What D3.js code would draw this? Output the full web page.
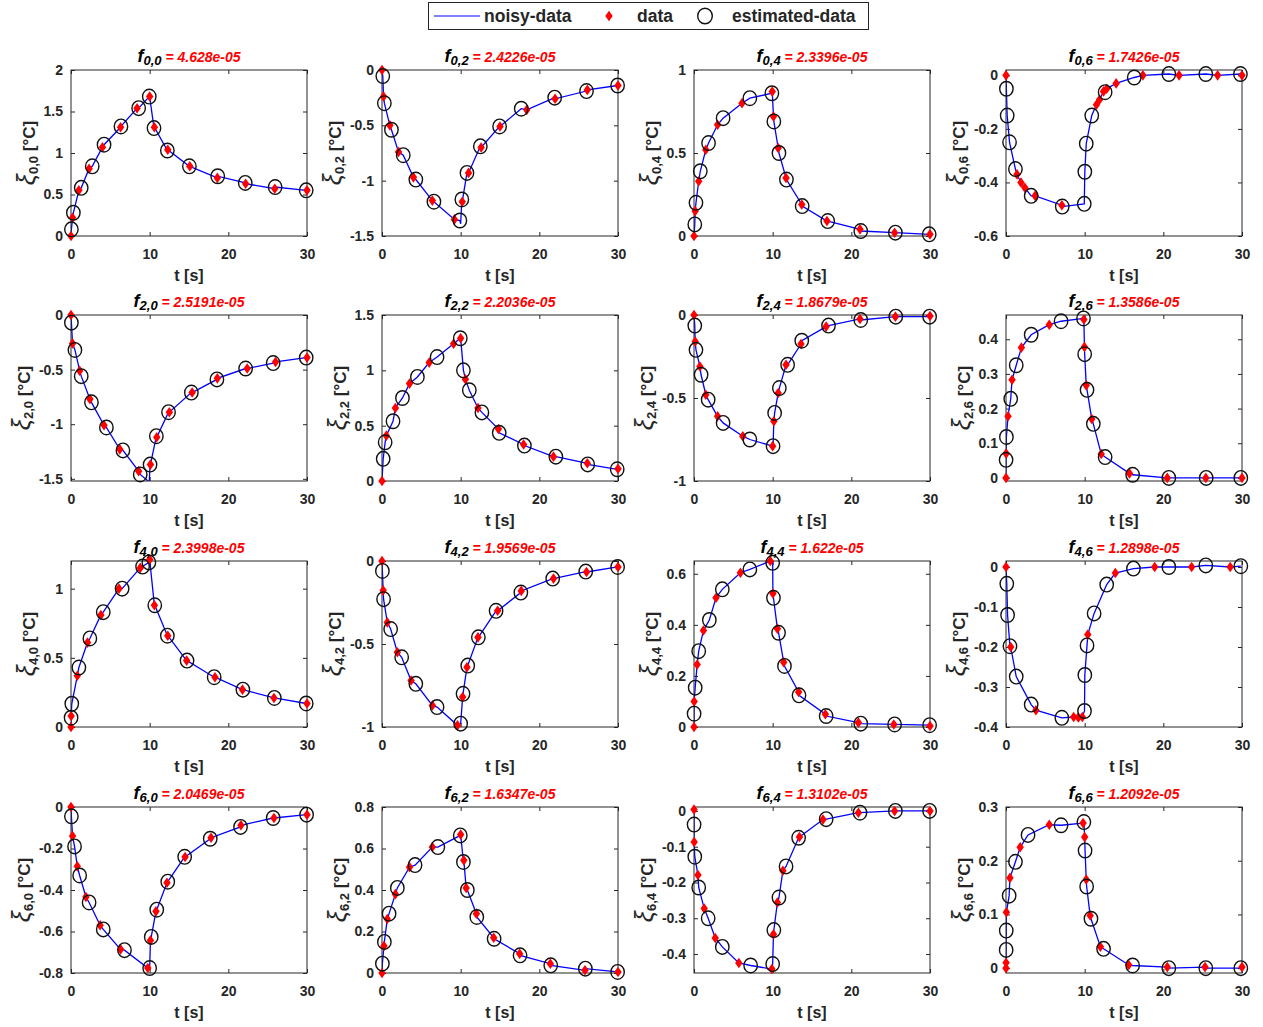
<!DOCTYPE html>
<html><head><meta charset="utf-8">
<script src="https://cdn.jsdelivr.net/npm/d3@7"></script>
<style>body{margin:0;background:#fff} svg{display:block}</style>
</head><body><svg id="c" width="1263" height="1027"></svg>
<script>
// ---------- data ----------
const rowIdx = [0, 2, 4, 6];
const colIdx = [0, 2, 4, 6];
const fValues = ["4.628e-05","2.4226e-05","2.3396e-05","1.7426e-05",
                 "2.5191e-05","2.2036e-05","1.8679e-05","1.3586e-05",
                 "2.3998e-05","1.9569e-05","1.622e-05","1.2898e-05",
                 "2.0469e-05","1.6347e-05","1.3102e-05","1.2092e-05"];
const xTicks = [0, 10, 20, 30];
const xDomain = [0, 30];
const yDomains = [[0,2],[-1.5,0],[0,1],[-0.6,0.02],
                  [-1.52,0],[0,1.5],[-1,0],[-0.009,0.47],
                  [0,1.2],[-1,0],[0,0.65],[-0.4,0.015],
                  [-0.8,0],[0,0.8],[-0.453,0.011],[-0.009,0.3]];
const yTicks = [[0,0.5,1,1.5,2],[-1.5,-1,-0.5,0],[0,0.5,1],[-0.6,-0.4,-0.2,0],
                [-1.5,-1,-0.5,0],[0,0.5,1,1.5],[-1,-0.5,0],[0,0.1,0.2,0.3,0.4],
                [0,0.5,1],[-1,-0.5,0],[0,0.2,0.4,0.6],[-0.4,-0.3,-0.2,-0.1,0],
                [-0.8,-0.6,-0.4,-0.2,0],[0,0.2,0.4,0.6,0.8],[-0.4,-0.3,-0.2,-0.1,0],[0,0.1,0.2,0.3]];

// measured data (red diamonds) and estimated data (circles): [t, value]
const data00 = [[0,0],[0.2,0.22],[1.0,0.55],[2.3,0.81],[4.0,1.07],[6.3,1.31],[8.4,1.54],[10.0,1.68],[10.6,1.31],[12.3,1.04],[15.1,0.84],[18.6,0.70],[22.2,0.63],[25.9,0.57],[30,0.55]];
const est00  = [[0.05,0.08],[0.3,0.28],[1.3,0.58],[2.7,0.84],[4.2,1.10],[6.35,1.32],[8.6,1.54],[9.95,1.68],[10.55,1.30],[12.25,1.03],[15.05,0.84],[18.65,0.72],[22.15,0.64],[25.95,0.59],[29.9,0.55]];
const data02 = [[0,0],[0.2,-0.24],[1.0,-0.50],[2.1,-0.74],[4.0,-0.97],[6.4,-1.18],[9.2,-1.35],[10.2,-1.19],[11.0,-0.93],[12.6,-0.70],[15.0,-0.51],[18.4,-0.36],[22.0,-0.26],[26.1,-0.18],[30,-0.14]];
const est02  = [[0.1,-0.055],[0.3,-0.30],[1.2,-0.54],[2.7,-0.77],[4.3,-0.99],[6.6,-1.19],[9.9,-1.36],[10.15,-1.17],[10.8,-0.93],[12.5,-0.69],[14.95,-0.51],[17.7,-0.35],[21.95,-0.25],[26.0,-0.19],[29.95,-0.14]];
const data04 = [[0,0],[0.15,0.15],[0.6,0.33],[1.5,0.52],[3.0,0.67],[6.1,0.80],[9.95,0.87],[10.1,0.72],[10.7,0.53],[11.7,0.35],[13.7,0.19],[16.9,0.09],[21.1,0.04],[25.5,0.02],[30,0.01]];
const est04  = [[0.1,0.07],[0.25,0.20],[0.8,0.39],[1.85,0.56],[3.7,0.71],[7.1,0.83],[9.9,0.86],[10.15,0.69],[10.8,0.50],[11.75,0.34],[13.75,0.18],[17.0,0.09],[21.2,0.03],[25.6,0.02],[29.9,0.01]];
const data06 = [[0,0],[1.4,-0.37],[1.9,-0.40],[2.4,-0.42],[3.7,-0.45],[7.1,-0.485],[11.5,-0.11],[11.9,-0.09],[12.4,-0.06],[12.8,-0.05],[14.0,-0.03],[17.4,0],[22.0,0],[26.9,0],[30,0]];
const est06  = [[0.05,-0.05],[0.15,-0.15],[0.45,-0.25],[1.2,-0.35],[3.2,-0.45],[7.15,-0.49],[9.95,-0.48],[10.02,-0.36],[10.2,-0.255],[10.9,-0.15],[12.6,-0.063],[16.3,-0.008],[20.7,0.005],[25.4,0.005],[29.8,0.005]];
const data20 = [[0,0],[0.2,-0.26],[1.1,-0.51],[2.4,-0.77],[4.2,-1.01],[6.2,-1.23],[8.6,-1.43],[10.1,-1.37],[10.9,-1.12],[12.5,-0.89],[15.4,-0.71],[18.6,-0.58],[22.4,-0.49],[26.0,-0.43],[30,-0.39]];
const est20  = [[0.05,-0.07],[0.5,-0.32],[1.3,-0.56],[2.6,-0.80],[4.5,-1.03],[6.6,-1.24],[8.8,-1.46],[10.05,-1.37],[10.85,-1.11],[12.4,-0.89],[15.3,-0.71],[18.55,-0.59],[22.2,-0.49],[25.7,-0.44],[29.9,-0.39]];
const data22 = [[0,0],[0.55,0.41],[1.7,0.66],[3.5,0.88],[6.0,1.07],[9.1,1.24],[10.0,1.29],[10.6,0.92],[12.2,0.66],[14.8,0.47],[18.0,0.33],[21.8,0.22],[26.1,0.16],[30,0.11]];
const est22  = [[0.15,0.20],[0.4,0.35],[1.4,0.54],[2.6,0.75],[4.5,0.94],[7.0,1.12],[9.95,1.29],[10.35,1.00],[11.1,0.82],[12.7,0.62],[14.9,0.435],[18.1,0.32],[22.1,0.22],[26.15,0.15],[29.9,0.106]];
const data24 = [[0,0],[0.15,-0.16],[0.75,-0.31],[1.5,-0.48],[3.0,-0.61],[6.2,-0.73],[10.0,-0.79],[10.15,-0.64],[10.7,-0.47],[11.7,-0.30],[13.6,-0.175],[16.8,-0.07],[21.1,-0.024],[25.6,-0.01],[30,-0.006]];
const est24  = [[0.1,-0.064],[0.25,-0.21],[0.9,-0.36],[1.8,-0.51],[3.7,-0.65],[7.1,-0.75],[10.05,-0.79],[10.25,-0.59],[10.85,-0.44],[11.9,-0.30],[13.7,-0.155],[17.1,-0.064],[21.2,-0.03],[25.65,-0.01],[29.95,-0.01]];
const data26 = [[0,0],[0.02,0.07],[0.26,0.178],[0.77,0.283],[1.96,0.376],[5.5,0.442],[9.9,0.457],[9.97,0.378],[10.2,0.267],[10.9,0.17],[12.1,0.069],[15.7,0.013],[20.5,0],[25.4,0],[30,0]];
const est26  = [[0.01,0.052],[0.05,0.118],[0.6,0.228],[1.3,0.325],[3.2,0.413],[7.0,0.452],[9.85,0.46],[10.0,0.357],[10.3,0.254],[11.1,0.156],[12.6,0.06],[16.1,0.009],[20.7,0],[25.45,0],[29.85,0]];
const data40 = [[0,0],[0.02,0.08],[0.8,0.37],[2.1,0.61],[3.8,0.81],[6.1,1.0],[8.8,1.15],[10.0,1.21],[10.6,0.88],[12.3,0.66],[14.7,0.48],[18.3,0.36],[21.8,0.27],[25.8,0.21],[30,0.17]];
const est40  = [[0.01,0.067],[0.1,0.168],[1.0,0.43],[2.4,0.64],[4.1,0.83],[6.5,1.0],[9.1,1.16],[9.9,1.19],[10.65,0.88],[12.25,0.66],[14.75,0.48],[18.2,0.36],[21.85,0.27],[25.85,0.21],[29.9,0.17]];
const data42 = [[0,0],[0.15,-0.177],[0.67,-0.37],[1.95,-0.55],[3.7,-0.72],[6.4,-0.87],[9.6,-0.99],[10.25,-0.82],[10.8,-0.64],[12.2,-0.46],[14.7,-0.30],[17.7,-0.18],[21.8,-0.106],[26.0,-0.066],[30,-0.036]];
const est42  = [[0.05,-0.06],[0.2,-0.23],[1.1,-0.41],[2.5,-0.58],[4.3,-0.74],[7.0,-0.88],[10.0,-0.98],[10.3,-0.80],[10.9,-0.63],[12.25,-0.46],[14.5,-0.30],[17.65,-0.19],[21.7,-0.106],[25.9,-0.064],[29.95,-0.036]];
const data44 = [[0,0],[0.02,0.10],[0.4,0.245],[1.2,0.378],[2.8,0.506],[5.9,0.604],[9.7,0.65],[10.03,0.523],[10.6,0.385],[11.4,0.254],[13.3,0.137],[16.7,0.05],[20.9,0.017],[25.4,0.01],[30,0.004]];
const est44  = [[0.01,0.052],[0.15,0.154],[0.6,0.297],[1.95,0.419],[3.6,0.539],[7.1,0.617],[10.0,0.643],[10.1,0.506],[10.75,0.369],[11.5,0.239],[13.35,0.124],[16.8,0.043],[21.2,0.013],[25.5,0.01],[29.95,0.007]];
const data46 = [[0,0],[0.6,-0.2],[3.8,-0.358],[8.6,-0.375],[9.2,-0.376],[9.7,-0.375],[10.4,-0.169],[13.9,-0.015],[18.9,0],[23.6,0],[28.5,0]];
const est46  = [[0.1,-0.042],[0.2,-0.12],[0.5,-0.198],[1.3,-0.274],[3.2,-0.344],[7.1,-0.377],[9.98,-0.36],[10.02,-0.27],[10.3,-0.196],[11.2,-0.116],[12.8,-0.044],[16.2,-0.004],[20.7,0],[25.4,0.004],[29.85,0.002]];
const data60 = [[0,0],[0.2,-0.14],[0.8,-0.286],[1.9,-0.434],[3.7,-0.57],[6.3,-0.686],[9.76,-0.776],[10.1,-0.643],[10.8,-0.503],[12.2,-0.365],[14.5,-0.241],[17.8,-0.148],[21.6,-0.088],[25.8,-0.053],[30,-0.037]];
const est60  = [[0.05,-0.045],[0.45,-0.19],[1.1,-0.33],[2.3,-0.46],[4.1,-0.59],[6.8,-0.69],[10.0,-0.776],[10.2,-0.626],[10.9,-0.495],[12.3,-0.36],[14.45,-0.24],[17.7,-0.153],[21.55,-0.096],[25.7,-0.053],[29.95,-0.037]];
const data62 = [[0,0],[0.25,0.13],[0.67,0.26],[1.7,0.38],[3.5,0.51],[6.4,0.607],[10.0,0.667],[10.4,0.543],[10.7,0.41],[12.0,0.286],[14.2,0.17],[17.5,0.093],[21.4,0.045],[25.8,0.013],[30,0.005]];
const est62  = [[0.05,0.045],[0.3,0.15],[0.9,0.286],[1.95,0.41],[4.2,0.52],[7.1,0.607],[9.95,0.663],[10.35,0.535],[10.85,0.40],[12.05,0.27],[14.25,0.165],[17.55,0.085],[21.45,0.037],[25.85,0.021],[29.95,0.005]];
const data64 = [[0,0.004],[0.02,-0.087],[0.5,-0.179],[1.3,-0.273],[2.7,-0.355],[5.7,-0.425],[9.9,-0.442],[10.1,-0.345],[10.6,-0.256],[11.3,-0.167],[13.4,-0.073],[16.4,-0.024],[20.9,-0.005],[25.5,0],[30,0]];
const est64  = [[0.01,-0.038],[0.1,-0.128],[0.6,-0.214],[1.8,-0.30],[3.6,-0.38],[7.2,-0.432],[10.0,-0.428],[10.15,-0.333],[10.8,-0.242],[11.7,-0.155],[13.3,-0.075],[16.8,-0.023],[21.1,-0.005],[25.6,0],[29.95,0]];
const data66 = [[0,0],[0.01,0.01],[0.05,0.104],[0.5,0.168],[1.8,0.225],[5.5,0.267],[9.8,0.27],[10.0,0.244],[10.2,0.165],[10.7,0.098],[12.0,0.04],[15.6,0.006],[20.5,0.002],[25.3,0.002],[30,0.002]];
const est66  = [[0.02,0.034],[0.03,0.07],[0.4,0.135],[1.2,0.198],[2.8,0.248],[7.0,0.266],[9.9,0.272],[10.05,0.219],[10.25,0.152],[10.8,0.092],[12.4,0.036],[16.1,0.005],[20.7,0],[25.4,0],[29.85,0]];
// extra points of the noisy curve where it dips past the samples
const extra02 = [[10.0,-1.39]];
const extra20 = [[9.95,-1.53]];

const dataSets = [data00,data02,data04,data06,data20,data22,data24,data26,data40,data42,data44,data46,data60,data62,data64,data66];
const estSets  = [est00,est02,est04,est06,est20,est22,est24,est26,est40,est42,est44,est46,est60,est62,est64,est66];
const extraSets = [[],extra02,[],[],extra20,[],[],[],[],[],[],[],[],[],[],[]];

// ---------- layout ----------
const colLeft = [71, 382, 694, 1006];
const rowTop = [70, 315, 561, 807];
const W = 236, H = 166;
const FONT = '"Liberation Sans", Arial, Helvetica, sans-serif';
const AX = '#262626';
const svg = d3.select('#c').style('font-family', FONT);
const diamond = 'M0,-5.3L3.7,0L0,5.3L-3.7,0Z';

dataSets.forEach((dat, k) => {
  const r = Math.floor(k / 4), c = k % 4;
  const g = svg.append('g').attr('transform', `translate(${colLeft[c]},${rowTop[r]})`);
  const x = d3.scaleLinear().domain(xDomain).range([0, W]);
  const y = d3.scaleLinear().domain(yDomains[k]).range([H, 0]);

  const clipId = 'clip' + k;
  g.append('clipPath').attr('id', clipId).append('rect').attr('width', W).attr('height', H);

  // axes
  const fmt = d => String(d);
  const ax = [
    g.append('g').attr('transform', `translate(0,${H})`)
      .call(d3.axisBottom(x).tickValues(xTicks).tickSize(-4).tickSizeOuter(0).tickPadding(13).tickFormat(fmt)),
    g.append('g').call(d3.axisTop(x).tickValues(xTicks).tickSize(-4).tickSizeOuter(0).tickFormat('')),
    g.append('g').call(d3.axisLeft(y).tickValues(yTicks[k]).tickSize(-4).tickSizeOuter(0).tickPadding(8).tickFormat(fmt)),
    g.append('g').attr('transform', `translate(${W},0)`)
      .call(d3.axisRight(y).tickValues(yTicks[k]).tickSize(-4).tickSizeOuter(0).tickFormat(''))
  ];
  ax.forEach(a => {
    a.select('.domain').remove();
    a.selectAll('line').attr('stroke', AX);
    a.selectAll('text').attr('fill', AX).style('font-family', FONT)
      .style('font-size', '14px').style('font-weight', 'bold');
  });

  // noisy-data line
  const pts = dat.concat(estSets[k], extraSets[k]).sort((a, b) => a[0] - b[0]);
  g.append('path')
    .attr('clip-path', `url(#${clipId})`)
    .attr('d', d3.line().x(d => x(d[0])).y(d => y(d[1]))(pts))
    .attr('fill', 'none').attr('stroke', '#0000ff').attr('stroke-width', 1.3);

  // box
  g.append('rect').attr('width', W).attr('height', H)
    .attr('fill', 'none').attr('stroke', AX).attr('stroke-width', 1);

  // data diamonds
  g.selectAll('path.dm').data(dat).join('path').attr('class', 'dm')
    .attr('d', diamond)
    .attr('transform', d => `translate(${x(d[0])},${y(d[1])})`)
    .attr('fill', '#ff0000');

  // estimated circles
  g.selectAll('ellipse.est').data(estSets[k]).join('ellipse').attr('class', 'est')
    .attr('cx', d => x(d[0])).attr('cy', d => y(d[1]))
    .attr('rx', 6.7).attr('ry', 7.3)
    .attr('fill', 'none').attr('stroke', '#111').attr('stroke-width', 1.4);

  // x label
  g.append('text').attr('x', W / 2).attr('y', H + 45).attr('text-anchor', 'middle')
    .attr('fill', AX).style('font-size', '16px').style('font-weight', 'bold').text('t [s]');

  // y label
  let maxW = 0;
  ax[2].selectAll('text').each(function () { maxW = Math.max(maxW, this.getComputedTextLength()); });
  const sub = rowIdx[r] + ',' + colIdx[c];
  const yl = g.append('text')
    .attr('transform', `translate(${-(8 + maxW + 9)},${H / 2}) rotate(-90)`)
    .attr('text-anchor', 'middle').attr('fill', AX)
    .style('font-size', '17px').style('font-weight', 'bold');
  yl.append('tspan').style('font-size', '25px').style('font-style', 'italic').style('font-weight', 'normal').text('ξ');
  yl.append('tspan').style('font-size', '13px').attr('dy', 3).text(sub);
  yl.append('tspan').attr('dy', -3).text(' [°C]');

  // title
  const tt = g.append('text').attr('x', W / 2).attr('y', -8).attr('text-anchor', 'middle')
    .style('font-weight', 'bold').style('font-style', 'italic');
  tt.append('tspan').style('font-size', '18px').attr('fill', '#000').text('f');
  tt.append('tspan').style('font-size', '13px').attr('fill', '#000').attr('dy', 3).text(sub);
  tt.append('tspan').style('font-size', '14px').attr('fill', '#ff0000').attr('dy', -3).text(' = ' + fValues[k]);
});

// ---------- legend ----------
const lg = svg.append('g');
lg.append('rect').attr('x', 428.5).attr('y', 2.5).attr('width', 440).attr('height', 27)
  .attr('fill', '#fff').attr('stroke', AX).attr('stroke-width', 1);
lg.append('line').attr('x1', 434).attr('x2', 480).attr('y1', 16).attr('y2', 16)
  .attr('stroke', '#0000ff').attr('stroke-width', 1.1);
const legTxt = (xx, s) => lg.append('text').attr('x', xx).attr('y', 22).attr('fill', AX)
  .style('font-size', '17.5px').style('font-weight', 'bold').text(s);
legTxt(484, 'noisy-data');
lg.append('path').attr('d', diamond).attr('transform', 'translate(609,16)').attr('fill', '#ff0000');
legTxt(637, 'data');
lg.append('ellipse').attr('cx', 705).attr('cy', 16).attr('rx', 7.3).attr('ry', 7.8)
  .attr('fill', 'none').attr('stroke', '#111').attr('stroke-width', 1.4);
legTxt(732, 'estimated-data');
</script>
</body></html>
